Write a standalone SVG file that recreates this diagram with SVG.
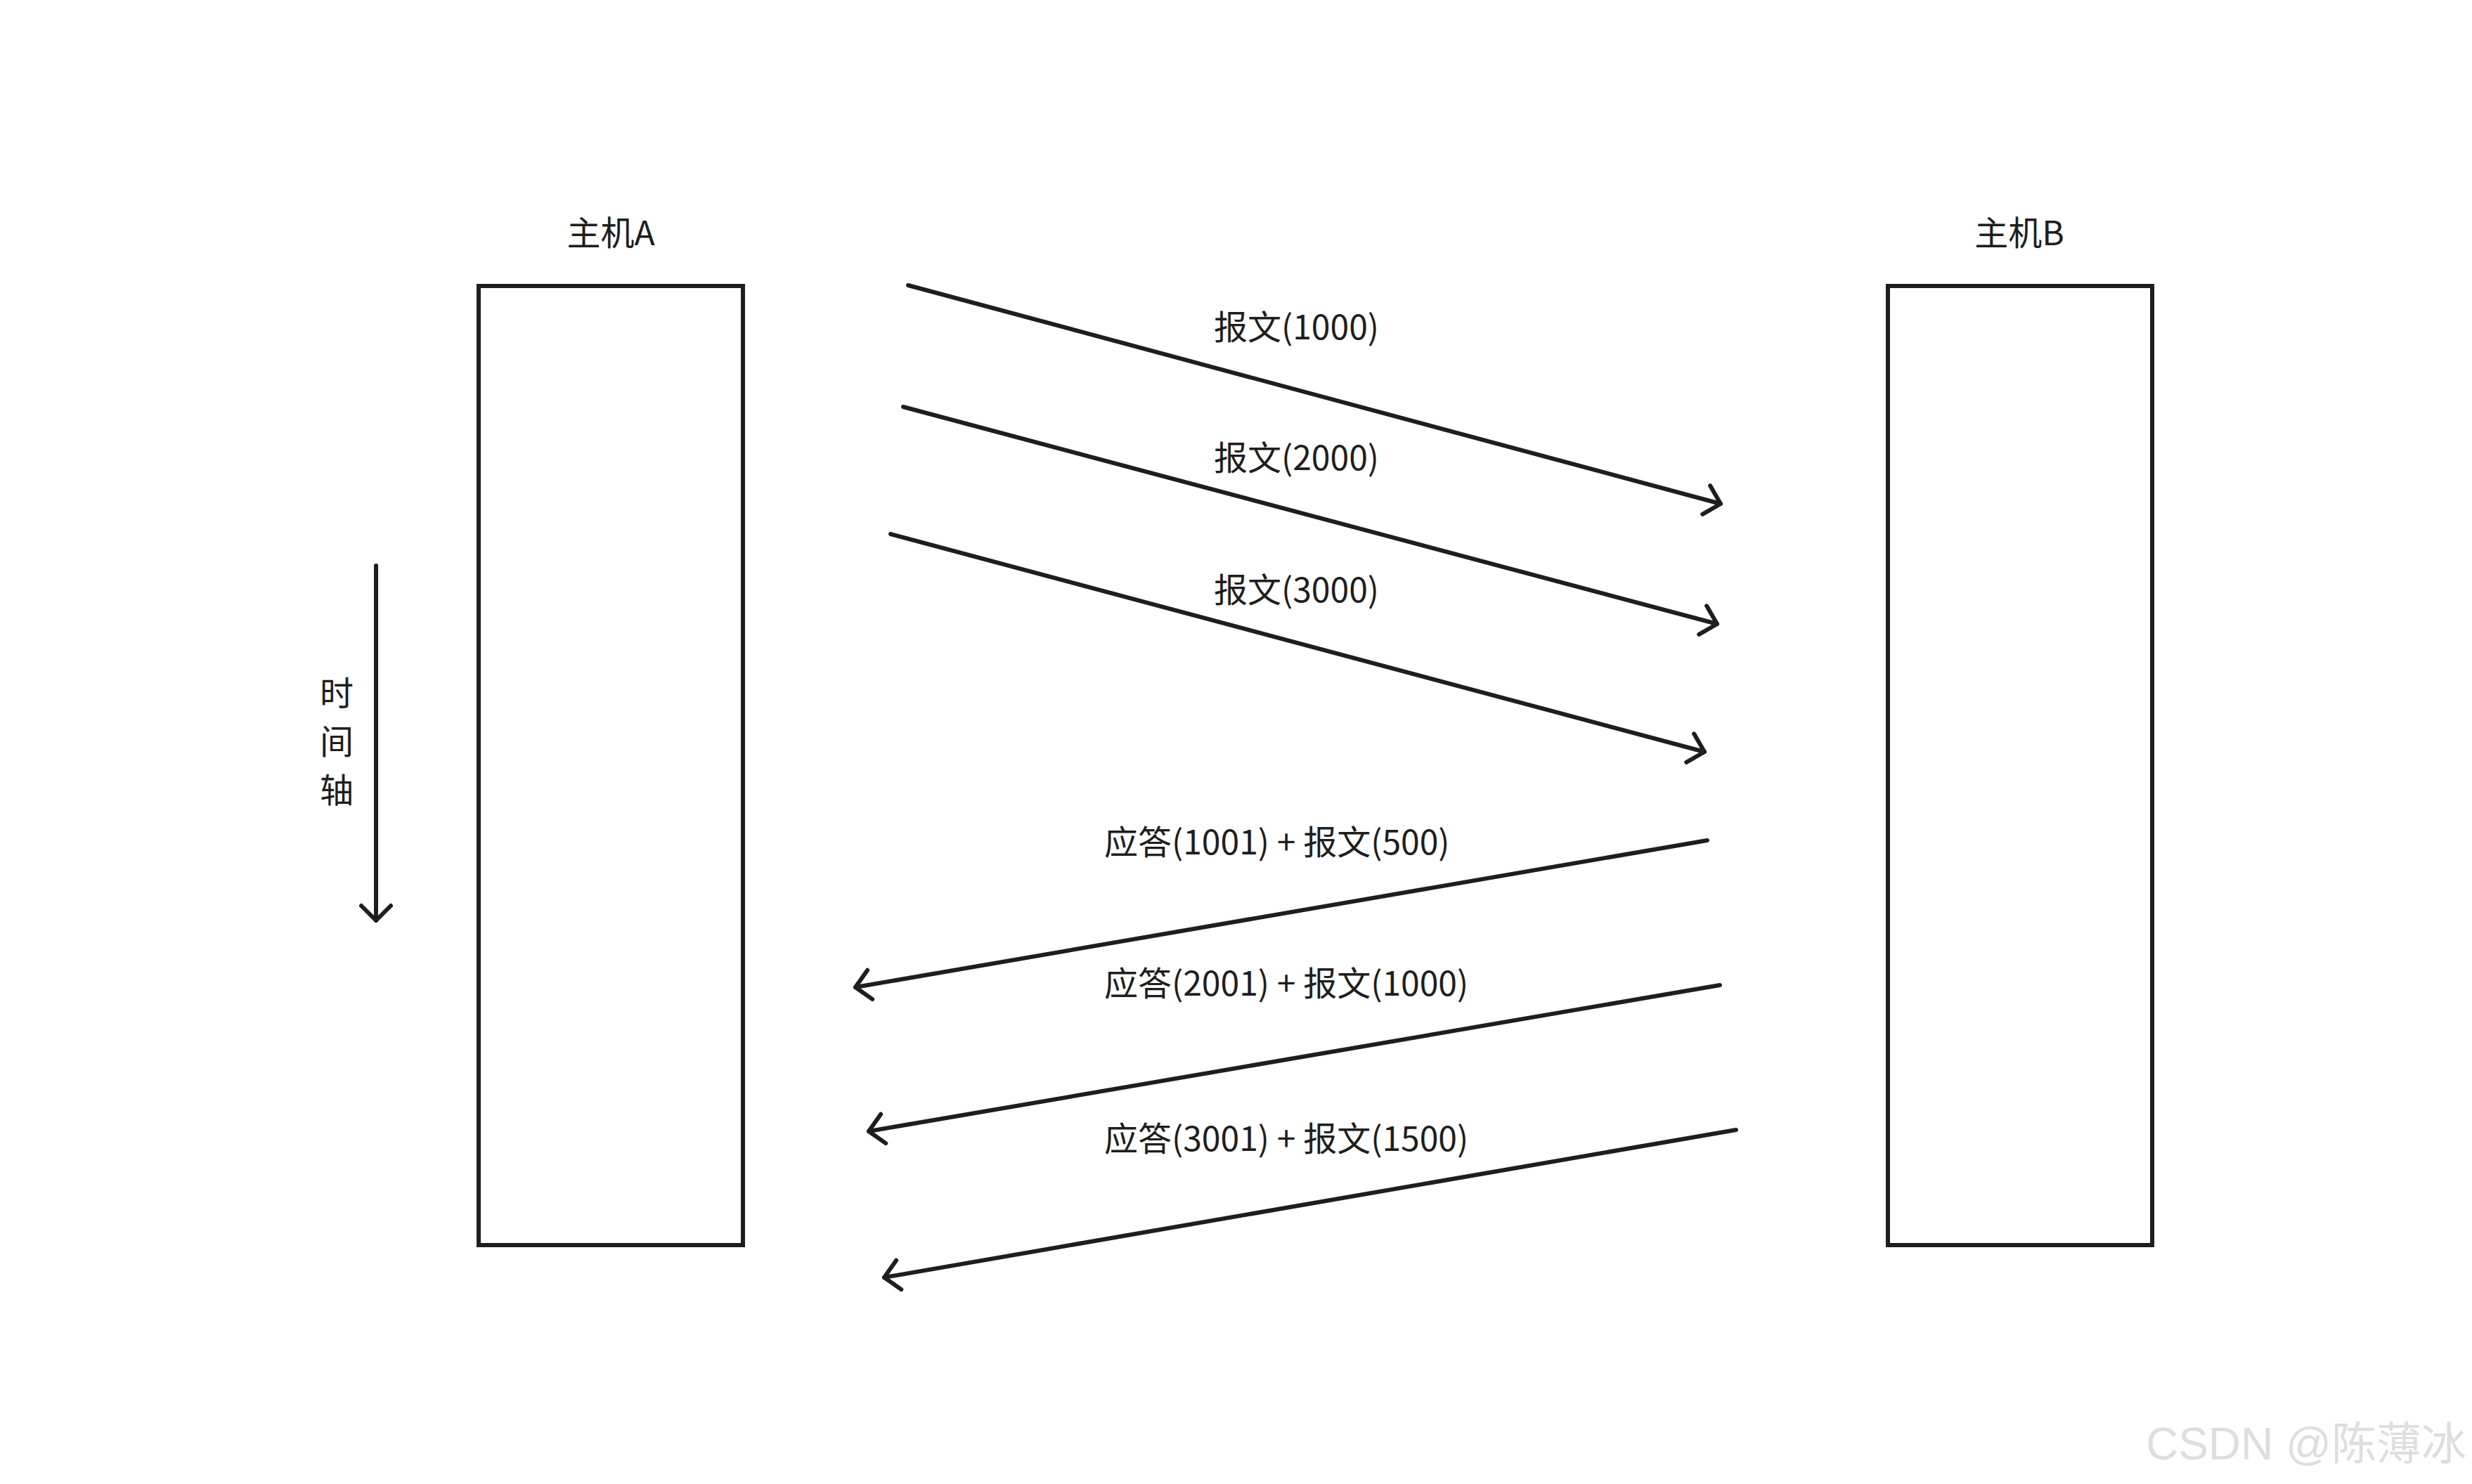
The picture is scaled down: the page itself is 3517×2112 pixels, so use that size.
<svg xmlns="http://www.w3.org/2000/svg" width="3517" height="2112" viewBox="0 0 3517 2112">
<style>
.box{fill:none;stroke:#1e1e1e;stroke-width:6}
.ln{fill:none;stroke:#1e1e1e;stroke-width:6;stroke-linecap:round}
.t{font-family:"Noto Sans CJK SC","Noto Sans",sans-serif;font-size:48px;fill:#1e1e1e}
.wm{font-family:"Liberation Sans","Noto Sans CJK SC",sans-serif;font-size:64px;fill:#dedede}
</style>
<defs>
<marker id="ah" markerUnits="userSpaceOnUse" viewBox="-30 -30 40 60" markerWidth="40" markerHeight="60" refX="0" refY="0" orient="auto">
<path d="M-21,-21 L0,0 L-21,21" fill="none" stroke="#1e1e1e" stroke-width="6" stroke-linecap="round" stroke-linejoin="round"/>
</marker>
</defs>
<rect width="3517" height="2112" fill="#ffffff"/>
<g id="hostA">
<rect class="box" x="681" y="407" width="376" height="1365"/>
<text class="t" x="869" y="349" text-anchor="middle">主机A</text>
</g>
<g id="hostB">
<rect class="box" x="2686" y="407" width="376" height="1365"/>
<text class="t" x="2873" y="349" text-anchor="middle">主机B</text>
</g>
<g id="timeline">
<line class="ln" x1="535" y1="805" x2="535" y2="1310" marker-end="url(#ah)"/>
<text class="t" x="479" y="1004" text-anchor="middle">时</text>
<text class="t" x="479" y="1073" text-anchor="middle">间</text>
<text class="t" x="479" y="1142" text-anchor="middle">轴</text>
</g>
<g id="connectors">
<line class="ln" x1="1292" y1="406" x2="2448" y2="717" marker-end="url(#ah)"/>
<line class="ln" x1="1285" y1="579" x2="2443" y2="888" marker-end="url(#ah)"/>
<line class="ln" x1="1267" y1="760" x2="2425" y2="1070" marker-end="url(#ah)"/>
<line class="ln" x1="2429" y1="1196" x2="1217" y2="1405" marker-end="url(#ah)"/>
<line class="ln" x1="2447" y1="1402" x2="1236" y2="1610" marker-end="url(#ah)"/>
<line class="ln" x1="2470" y1="1608" x2="1258" y2="1818" marker-end="url(#ah)"/>
</g>
<g id="labels">
<text class="t" x="1727" y="483">报文(1000)</text>
<text class="t" x="1727" y="669">报文(2000)</text>
<text class="t" x="1727" y="857">报文(3000)</text>
<text class="t" x="1571" y="1216">应答(1001) + 报文(500)</text>
<text class="t" x="1571" y="1417">应答(2001) + 报文(1000)</text>
<text class="t" x="1571" y="1638">应答(3001) + 报文(1500)</text>
</g>
<text class="wm" x="3509" y="2077" text-anchor="end">CSDN @陈薄冰</text>
</svg>
